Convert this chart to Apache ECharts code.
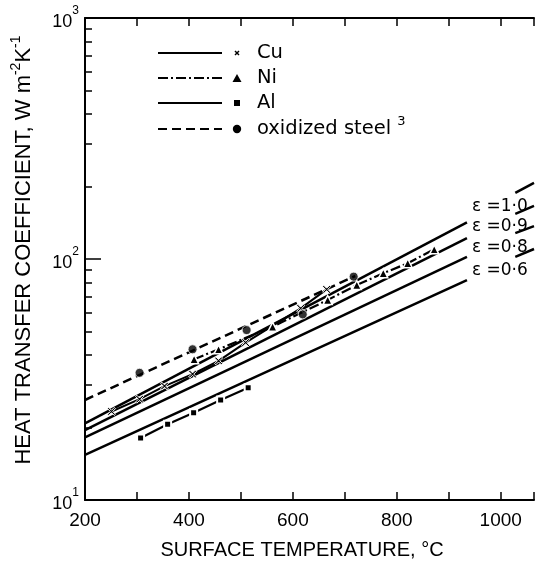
<!DOCTYPE html>
<html><head><meta charset="utf-8">
<script src="https://cdn.jsdelivr.net/npm/echarts@6/dist/echarts.min.js"></script>
<style>html,body{margin:0;padding:0;background:#fff}#c{width:537px;height:564px}</style>
</head><body><div id="c"></div>
<script>
// ---- data (temperature °C, heat transfer coefficient W m^-2 K^-1) ----
const epsLeftT = [200, 935];
const epsRightT = [1028, 1064];
const eps10Left = [20.8, 142];  const eps10Right = [188, 207];
const eps09Left = [19.5, 122];  const eps09Right = [154, 166];
const eps08Left = [18.2, 102];  const eps08Right = [128, 137];
const eps06Left = [15.4, 81.8]; const eps06Right = [102, 110];
const epsLabels = ['ε =1·0', 'ε =0·9', 'ε =0·8', 'ε =0·6'];

const cuT = [251, 305, 353, 407, 457, 509, 615, 665];
const cuH = [23.3, 26.2, 29.7, 33.3, 37.8, 45.0, 62.4, 74.8];
const niT = [410, 457, 561, 667, 723, 774, 821, 872];
const niH = [38.4, 42.2, 52.4, 67.6, 78.0, 87.3, 96.0, 109.7];
const alT = [307, 359, 409, 461, 514];
const alH = [18.1, 20.6, 23.0, 26.0, 29.2];
const steelT = [305, 407, 511, 619, 717];
const steelH = [33.7, 42.2, 50.7, 58.9, 84.5];
const steelFitT = [200, 720];
const steelFitH = [26.0, 85];

const xTickLabels = [200, 400, 600, 800, 1000];
const legendNames = ['Cu', 'Ni', 'Al', 'oxidized steel'];

// ---- chart ----
const FONT = '"Liberation Sans", Arial, sans-serif';
const DFONT = '"DejaVu Sans", sans-serif';
const pairs = (t, h) => t.map((v, i) => [v, h[i]]);
const crossPath = 'path://M0,1.5L1.5,0L5,3.5L8.5,0L10,1.5L6.5,5L10,8.5L8.5,10L5,6.5L1.5,10L0,8.5L3.5,5Z';

const chart = echarts.init(document.getElementById('c'), null, {renderer: 'canvas'});

const epsSets = [[eps10Left, eps10Right], [eps09Left, eps09Right], [eps08Left, eps08Right], [eps06Left, eps06Right]];
const epsOffsets = [[-3, -16], [-3, -12], [-3, -9], [-3, -9]];
const series = [];
epsSets.forEach((s, i) => {
  series.push({
    type: 'line', data: pairs(epsLeftT, s[0]), symbol: 'none', silent: true,
    lineStyle: {color: '#000', width: 2.5},
    endLabel: {show: true, formatter: epsLabels[i], offset: epsOffsets[i], fontSize: 17, fontFamily: DFONT, color: '#000'}
  });
  series.push({
    type: 'line', data: pairs(epsRightT, s[1]), symbol: 'none', silent: true,
    lineStyle: {color: '#000', width: 2.5}
  });
});
series.push({
  type: 'line', data: pairs(steelFitT, steelFitH), symbol: 'none',
  lineStyle: {color: '#000', width: 2.5, type: [9, 5]}
});
series.push({
  type: 'line', data: pairs(cuT, cuH), symbol: crossPath, symbolSize: 8, z: 5,
  lineStyle: {color: '#000', width: 2},
  itemStyle: {color: '#000', borderColor: '#fff', borderWidth: 1}
});
series.push({
  type: 'line', data: pairs(niT, niH), symbol: 'triangle', symbolSize: 9, z: 5,
  lineStyle: {color: '#000', width: 2.2, type: [10, 3, 2, 3]},
  itemStyle: {color: '#000', borderColor: '#fff', borderWidth: 1.5}
});
series.push({
  type: 'line', data: pairs(alT, alH), symbol: 'rect', symbolSize: 7, z: 5,
  lineStyle: {color: '#000', width: 2.2},
  itemStyle: {color: '#000', borderColor: '#fff', borderWidth: 2}
});
series.push({
  type: 'scatter', data: pairs(steelT, steelH), symbol: 'circle', symbolSize: 9, z: 6,
  itemStyle: {color: '#000', borderColor: '#fff', borderWidth: 1}
});

const supRich = {
  b: {fontSize: 18, fontFamily: FONT, color: '#000', verticalAlign: 'bottom', lineHeight: 26},
  s: {fontSize: 12, fontFamily: FONT, color: '#000', verticalAlign: 'top', lineHeight: 26}
};

const legendRowsY = [53, 78, 103, 129];
const legendGraphics = [];
const dashes = [null, [10, 3, 2, 3], null, [9, 5]];
legendRowsY.forEach((y, i) => {
  legendGraphics.push({type: 'line', shape: {x1: 158, y1: y, x2: 222, y2: y},
    style: {stroke: '#000', lineWidth: 2.2, lineDash: dashes[i]}});
});
legendGraphics.push(
  {type: 'line', shape: {x1: 235, y1: 51, x2: 239, y2: 55}, style: {stroke: '#000', lineWidth: 1.5}},
  {type: 'line', shape: {x1: 239, y1: 51, x2: 235, y2: 55}, style: {stroke: '#000', lineWidth: 1.5}},
  {type: 'polygon', shape: {points: [[237, 74], [241.5, 82], [232.5, 82]]}, style: {fill: '#000'}},
  {type: 'rect', shape: {x: 234, y: 100, width: 6, height: 6}, style: {fill: '#000'}},
  {type: 'circle', shape: {cx: 237, cy: 129, r: 4.2}, style: {fill: '#000'}}
);
legendNames.forEach((n, i) => {
  legendGraphics.push({type: 'text', x: 257, y: legendRowsY[i],
    style: {text: i === 3 ? n + ' {s|3}' : n, fontSize: 19.5, fontFamily: DFONT, fill: '#000',
      verticalAlign: 'middle', align: 'left',
      rich: {s: {fontSize: 13, fontFamily: DFONT, fill: '#000', verticalAlign: 'top', lineHeight: 28}}}});
});

chart.setOption({
  animation: false,
  backgroundColor: '#fff',
  grid: {left: 85, right: 0, top: 18, bottom: 64, containLabel: false},
  xAxis: [
    {type: 'value', min: 200, max: 1064, interval: 100, position: 'bottom',
      axisLine: {onZero: false, lineStyle: {color: '#000', width: 2}},
      axisTick: {inside: true, length: 8, lineStyle: {color: '#000', width: 1.5}},
      axisLabel: {margin: 11, fontSize: 19, fontFamily: FONT, color: '#000',
        formatter: v => xTickLabels.includes(v) ? String(v) : ''},
      splitLine: {show: false}},
    {type: 'value', min: 200, max: 1064, interval: 100, position: 'top',
      axisLine: {onZero: false, lineStyle: {color: '#000', width: 2}},
      axisTick: {inside: true, length: 8, lineStyle: {color: '#000', width: 1.5}},
      axisLabel: {show: false}, splitLine: {show: false}}
  ],
  yAxis: [{
    type: 'log', logBase: 10, min: 10, max: 1000, position: 'left',
    axisLine: {show: true, onZero: false, lineStyle: {color: '#000', width: 2}},
    axisTick: {show: true, inside: true, length: 16, lineStyle: {color: '#000', width: 1.5}},
    minorTick: {show: true, splitNumber: 9, length: 7, lineStyle: {color: '#000', width: 1.5}},
    splitLine: {show: false}, minorSplitLine: {show: false},
    axisLabel: {margin: 6, formatter: v => '{b|10}{s|' + Math.round(Math.log10(v)) + '}', rich: supRich}
  }],
  series: series,
  graphic: legendGraphics.concat([
    {type: 'text', x: 24, y: 250, rotation: Math.PI / 2,
      style: {text: 'HEAT TRANSFER COEFFICIENT, W m{s|-2}K{s|-1}', fontSize: 22, fontFamily: FONT, fill: '#000',
        align: 'center', verticalAlign: 'middle',
        rich: {s: {fontSize: 14, fontFamily: FONT, fill: '#000', verticalAlign: 'top', lineHeight: 30}}}},
    {type: 'text', x: 302, y: 550,
      style: {text: 'SURFACE TEMPERATURE, °C', fontSize: 20, fontFamily: FONT, fill: '#000',
        align: 'center', verticalAlign: 'middle'}}
  ])
});
</script>
</body></html>
